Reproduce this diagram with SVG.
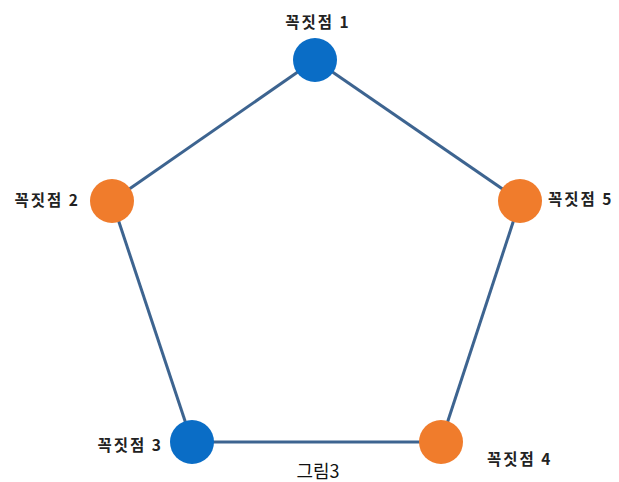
<svg xmlns="http://www.w3.org/2000/svg" width="619" height="482" viewBox="0 0 619 482">
<style>
.edge{stroke:#3D6490;stroke-width:3;fill:none}
.blue{fill:#0A6DC6}
.orange{fill:#F07C2C}
.lbl{font-family:"Noto Sans CJK KR","Noto Sans",sans-serif;font-size:15.5px;font-weight:bold;fill:#222;letter-spacing:2px}
.cap{font-family:"Noto Sans CJK KR","Noto Sans",sans-serif;font-size:18px;fill:#111}
</style>
<rect width="619" height="482" fill="#fff"/>
<g id="connectors">
<line class="edge" x1="315" y1="60" x2="112" y2="201"/>
<line class="edge" x1="315" y1="60" x2="520" y2="201"/>
<line class="edge" x1="112" y1="201" x2="192" y2="442"/>
<line class="edge" x1="520" y1="201" x2="441" y2="442"/>
<line class="edge" x1="192" y1="442" x2="441" y2="442"/>
</g>
<g id="node1"><circle class="blue" cx="315" cy="60" r="22"/><text class="lbl" x="318" y="28" text-anchor="middle">꼭짓점 1</text></g>
<g id="node2"><circle class="orange" cx="112" cy="201" r="22"/><text class="lbl" x="80" y="206" text-anchor="end">꼭짓점 2</text></g>
<g id="node5"><circle class="orange" cx="520" cy="201" r="22"/><text class="lbl" x="548" y="205">꼭짓점 5</text></g>
<g id="node3"><circle class="blue" cx="192" cy="442" r="22"/><text class="lbl" x="163" y="451" text-anchor="end">꼭짓점 3</text></g>
<g id="node4"><circle class="orange" cx="441" cy="442" r="22"/><text class="lbl" x="487" y="465">꼭짓점 4</text></g>
<text id="caption" class="cap" x="318" y="478" text-anchor="middle">그림3</text>
</svg>
